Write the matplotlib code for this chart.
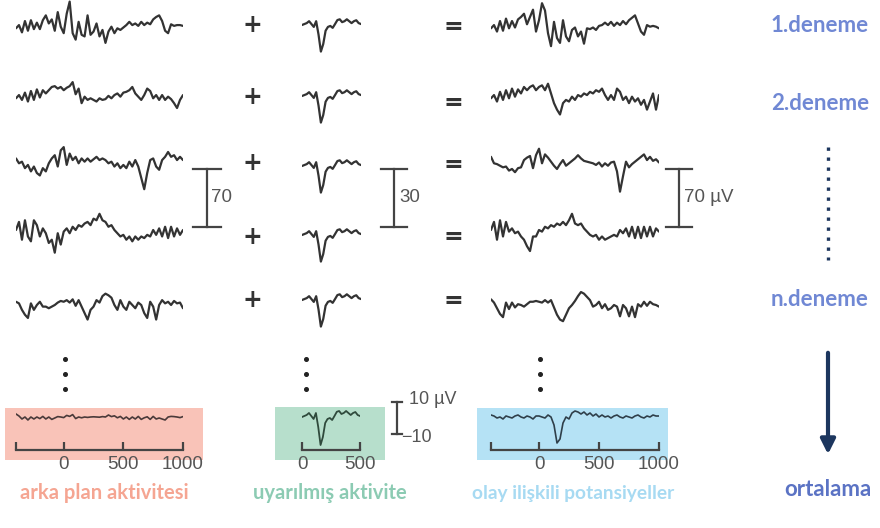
import numpy as np
import matplotlib.pyplot as plt
from matplotlib.patches import Rectangle

# zaman eksenleri (ms)
t_trial = np.arange(-400, 1001, 25)   # 57 örnek
t_erp = np.arange(0, 501, 20)         # 26 örnek

# arka plan aktivitesi, deneme 1..5 (µV)
bg_1 = [-2, 2, -7, 7, -5, 8, -3, 5, -3, 8, 14, 4, 9, -5, 18, 0, -8, 16, 31, -8,
        -16, 6, -10, -12, 14, -10, -6, 4, -12, -4, -20, -6, 0, -8, -2, -4, -1, 2, 6, 2,
        4, 1, 6, 2, 5, 3, 9, 12, 14, 7, -5, -8, 3, 1, 2, 2, 1]
bg_2 = [0, 4, -2, 7, -4, 9, -2, 11, 1, 10, 6, 10, 14, 15, 12, 14, 10, 13, 15, 20,
        5, 12, -6, 2, -2, 0, -2, -4, 0, -2, -1, 3, 0, 4, 6, 2, 7, 8, 10, 14,
        6, 2, -2, 4, 12, 9, 0, 4, -2, 4, -2, 2, -1, -6, -12, -2, 4]
bg_3 = [6, 0, 2, -6, -2, -10, -4, -12, -15, -6, -10, 0, 6, 10, -4, 16, 20, -2, 12, 4,
        8, 0, 6, 2, 6, 2, 5, 8, 4, 6, 4, 0, 2, -4, 0, -6, -2, -6, 2, -4,
        4, -4, -18, -32, -12, 4, 6, -4, -8, 4, 8, 14, 8, 10, 4, 8, 4]
bg_4 = [0, 10, -12, 12, -8, -14, 12, 6, -8, 2, -4, -16, -12, -28, -4, -18, -2, 2, -4, 4,
        0, 6, 4, 8, 10, 6, 14, 12, 20, 12, 10, 4, 6, 0, -4, -8, -6, -12, -8, -14,
        -8, -12, -8, -10, -6, -8, 0, -6, 2, -8, 4, -10, 4, -8, 2, -6, 0]
bg_5 = [4, 2, -6, -12, -16, 2, -6, 0, 4, -2, -2, -4, -2, 0, 3, 5, 4, 6, 3, 7,
        -1, 6, -2, -10, -18, -6, -2, 6, 3, 11, 14, 12, 9, 0, -6, 6, -2, -6, 4, 0,
        -4, 3, 0, -10, -16, 4, -2, -18, 0, 6, 2, 4, 0, 5, 2, 3, -4]

# uyarılmış aktivite (ERP şablonu, µV)
erp = [0, 0.5, 1, 2, 0.5, -1, 2, -5, -14, -10, -3, -1, -0.5, -1.5, 0.5, 2.6,
       3, 1.5, 2, 3, 2, 1, 2, 2.5, 1, 0.5]

# olay ilişkili potansiyel içeren denemeler (µV)
sum_1 = [-2, 2, -6, 7, -5, 10, -2, 7, -1, 9, 12, 16, 3, 12, 21, -6, 8, 29, 20, -8,
         -24, 6, -14, -20, 8, -12, -18, -4, -1, -12, -6, -21, -2, -3, -1, -4, 1, 2, 5, 2,
         6, 1, 5, 2, 7, 3, 8, 11, 14, 4, -6, -10, 2, 0, 1, 0, -2]
sum_2 = [0, 4, -4, 8, -2, 10, 0, 12, 2, 11, 6, 14, 10, 14, 16, 10, 14, 16, 10, 18,
         6, -6, -14, -20, -6, -2, -4, 2, -2, 4, 2, 6, 4, 8, 6, 10, 8, 12, 4, -2,
         4, -2, 12, 8, -2, 2, -6, 2, -4, 0, -8, -2, -14, -4, 6, -14, 4]
sum_3 = [8, 0, -1, -3, -5, -4, -9, -7, -11, -6, -5, 4, 7, 9, -6, 10, 18, 0, 11, 7,
         2, -3, -7, -1, 4, -3, 0, 3, 6, 10, 6, 3, 2, 1, 0, -2, 1, -4, 0, -3,
         1, 2, -10, -35, -16, 2, -5, -1, 2, 5, 8, 11, 4, 8, 3, 5, 1]
sum_4 = [0, 10, -12, 12, -8, 10, -2, 2, -4, -2, -8, -12, -20, -26, -8, -8, 0, -2, 4, 2,
         6, 4, 8, 6, 10, 6, 12, 20, 8, 6, 8, 2, -2, -6, -8, -6, -12, -8, -12, -10,
         -8, -6, -8, 0, -4, 2, -8, 4, -10, 4, -10, 4, -8, 4, -8, 2, -2]
sum_5 = [7, 3, -4, -11, -15, 3, -5, 3, -3, 1, 0, -2, 1, 4, 4, 5, 4, 3, 6, 3,
         6, -3, -12, -18, -20, -12, -4, 0, 5, 11, 16, 14, 10, 6, -2, 0, 4, -4, 1, -6,
         -4, 0, -2, -14, 0, -4, -14, -2, -15, 1, -2, 4, -1, 4, 1, 0, -2]

# ortalamalar (µV)
bg_avg = [1.5, 0.5, -1, 0, -1.5, 0, -1, 0, -0.8, 0.3, -1, 0, -1.2, -0.5, 0.2,
          0, -0.3, 0.8, 0.3, 1.2, -0.8, 0, -0.4, 0, -0.2, 0, 0.1, 0, -0.1, 0.2,
          0, 1, 0.2, 0.6, -0.4, 0.3, -1, 0, -1.2, 0, -1, 0.3, -1.2, -0.4, 0.1,
          -1.2, 0.3, -1, -0.5, -1, -1.5, 0, 0.3, 0.2, 0, -0.3, 0.2]
erp_avg = [1, 0.5, -0.5, 0, -1, 0.5, 0, -0.5, 0.5, 1, 0, -0.5, 0.5, 0, -1, 0.5,
           0.5, 0, -0.5, 1, 0, -4, -13, -11, -3, 0, -1, 2, 3, 2.5, 1.5, 2.5, 1, 2, 0.5, 1.5, 0,
           1, 0, 0.5, -0.5, 0.5, 1, 0, -0.5, 0.5, 0, -0.5, 0.5, 1, 0, -0.5, 0.5, 0, 1, 0.5, 0.5]

bg_rows = [bg_1, bg_2, bg_3, bg_4, bg_5]
sum_rows = [sum_1, sum_2, sum_3, sum_4, sum_5]
trial_names = ["1.deneme", "2.deneme", "n.deneme"]
bottom_labels = ["arka plan aktivitesi", "uyarılmış aktivite", "olay ilişkili potansiyeller"]

W, H = 880, 528
fig = plt.figure(figsize=(W / 100, H / 100), dpi=100)
fig.patch.set_facecolor("white")

# piksel koordinatlı katman (süsler, yazılar)
ax0 = fig.add_axes([0, 0, 1, 1])
ax0.set_xlim(0, W)
ax0.set_ylim(H, 0)
ax0.axis("off")

line_c = "#333333"
navy = "#1c365e"
grey = "#555555"
kw = dict(lw=1.6, solid_joinstyle="round", solid_capstyle="round")


def trace_axes(x0, x1, yc, tlim, ppu, half=40):
    ax = fig.add_axes([x0 / W, 1 - (yc + half) / H, (x1 - x0) / W, 2 * half / H])
    ax.set_xlim(*tlim)
    ax.set_ylim(-half / ppu, half / ppu)
    ax.set_facecolor("none")
    for s in ax.spines.values():
        s.set_visible(False)
    ax.set_xticks([])
    ax.set_yticks([])
    return ax


row_y = [26.7, 98.3, 163.3, 230, 305]
erp_y = [25, 96, 166, 235, 300]
plus_y = [25, 97, 163, 237, 300]
eq_y = [27, 103, 165, 237, 301]

for i in range(5):
    a = trace_axes(16, 183, row_y[i], (-400, 1000), 0.81)
    a.plot(t_trial, bg_rows[i], color=line_c, **kw)
    a = trace_axes(302, 361, erp_y[i], (0, 500), 1.9)
    a.plot(t_erp, erp, color=line_c, **kw)
    a = trace_axes(491, 659, row_y[i], (-400, 1000), 0.81)
    a.plot(t_trial, sum_rows[i], color=line_c, **kw)
    ax0.text(252, plus_y[i], "+", ha="center", va="center", fontsize=17,
             fontweight="bold", color="#333333")
    ax0.text(453, eq_y[i], "=", ha="center", va="center", fontsize=17,
             fontweight="bold", color="#333333")

# dikey üç nokta
for x in [65, 306, 540]:
    ax0.plot([x, x, x], [359, 374, 389], "o", ms=2.6, color="#222222")

# ölçek çubukları
def scale_bar(x, y0, y1, cap, label, lx):
    ax0.plot([x, x], [y0, y1], color="#444444", lw=1.6)
    ax0.plot([x - cap, x + cap], [y0, y0], color="#444444", lw=1.6)
    ax0.plot([x - cap, x + cap], [y1, y1], color="#444444", lw=1.6)
    ax0.text(lx, (y0 + y1) / 2, label, ha="left", va="center", fontsize=13.5,
             color=grey, family="Liberation Sans")

scale_bar(207, 169, 227, 14, "70", 211)
scale_bar(394, 169, 227, 13, "30", 399)
scale_bar(679, 169, 227, 13, "70 µV", 684)

ax0.plot([397, 397], [402, 434], color="#444444", lw=1.6)
ax0.plot([392, 402], [402, 402], color="#444444", lw=1.6)
ax0.plot([392, 402], [434, 434], color="#444444", lw=1.6)
ax0.text(409, 399, "10 µV", ha="left", va="center", fontsize=13, color=grey,
         family="Liberation Sans")
ax0.text(401, 437, "\u221210", ha="left", va="center", fontsize=13, color=grey,
         family="Liberation Sans")

# alt kutular
box_cols = ["#f9c3b8", "#b7dfcc", "#b5e2f5"]
boxes = [(5, 408, 198, 52), (275, 407, 110, 53), (477, 408, 191, 52)]
for (x, y, w, h), c in zip(boxes, box_cols):
    ax0.add_patch(Rectangle((x, y), w, h, facecolor=c, edgecolor="none"))

def avg_axes(x0, x1, tlim, ticks, labels):
    a = trace_axes(x0, x1, 417, tlim, 2.0, half=33)
    a.spines["bottom"].set_visible(True)
    a.spines["bottom"].set_color("#444444")
    a.spines["bottom"].set_linewidth(1.6)
    a.set_xticks(ticks)
    a.set_xticklabels(labels, fontsize=13.5, color=grey, family="Liberation Sans")
    a.tick_params(axis="x", direction="in", length=6, width=1.6, color="#444444", pad=4)
    return a

a = avg_axes(16, 183, (-400, 1000), [-400, 0, 500, 1000], ["", "0", "500", "1000"])
a.plot(t_trial, bg_avg, color="#4a3a3a", lw=1.2, solid_joinstyle="round")
a = avg_axes(302, 360, (0, 500), [0, 500], ["0", "500"])
a.plot(t_erp, erp, color="#2f4a3c", lw=1.3, solid_joinstyle="round")
a = avg_axes(491, 659, (-400, 1000), [-400, 0, 500, 1000], ["", "0", "500", "1000"])
a.plot(t_trial, erp_avg, color="#2f3f4a", lw=1.2, solid_joinstyle="round")

label_cols = ["#f5a592", "#8ccbb3", "#a7daf2"]
label_sizes = [14.5, 14.5, 13.8]
for x, s, c, fs in zip([104, 330, 573], bottom_labels, label_cols, label_sizes):
    ax0.text(x, 493, s, ha="center", va="center", fontsize=fs, fontweight="bold",
             color=c, family="Lato")

# sağ taraf: deneme etiketleri
deneme_col = "#7088d4"
for y, s in zip([25, 103, 300], trial_names):
    ax0.text(820, y, s, ha="center", va="center", fontsize=16, fontweight="bold",
             color=deneme_col, family="Lato")
ax0.plot([828, 828], [147, 260], color=navy, lw=2.4, linestyle=(0, (1, 2)),
         dash_capstyle="butt")
ax0.annotate("", xy=(828, 457), xytext=(828, 350),
             arrowprops=dict(arrowstyle="-|>", lw=3, color=navy, mutation_scale=22))
ax0.text(828, 489, "ortalama", ha="center", va="center", fontsize=16,
         fontweight="bold", color="#5b73c4", family="Lato")

fig.savefig("out.png", dpi=100)
